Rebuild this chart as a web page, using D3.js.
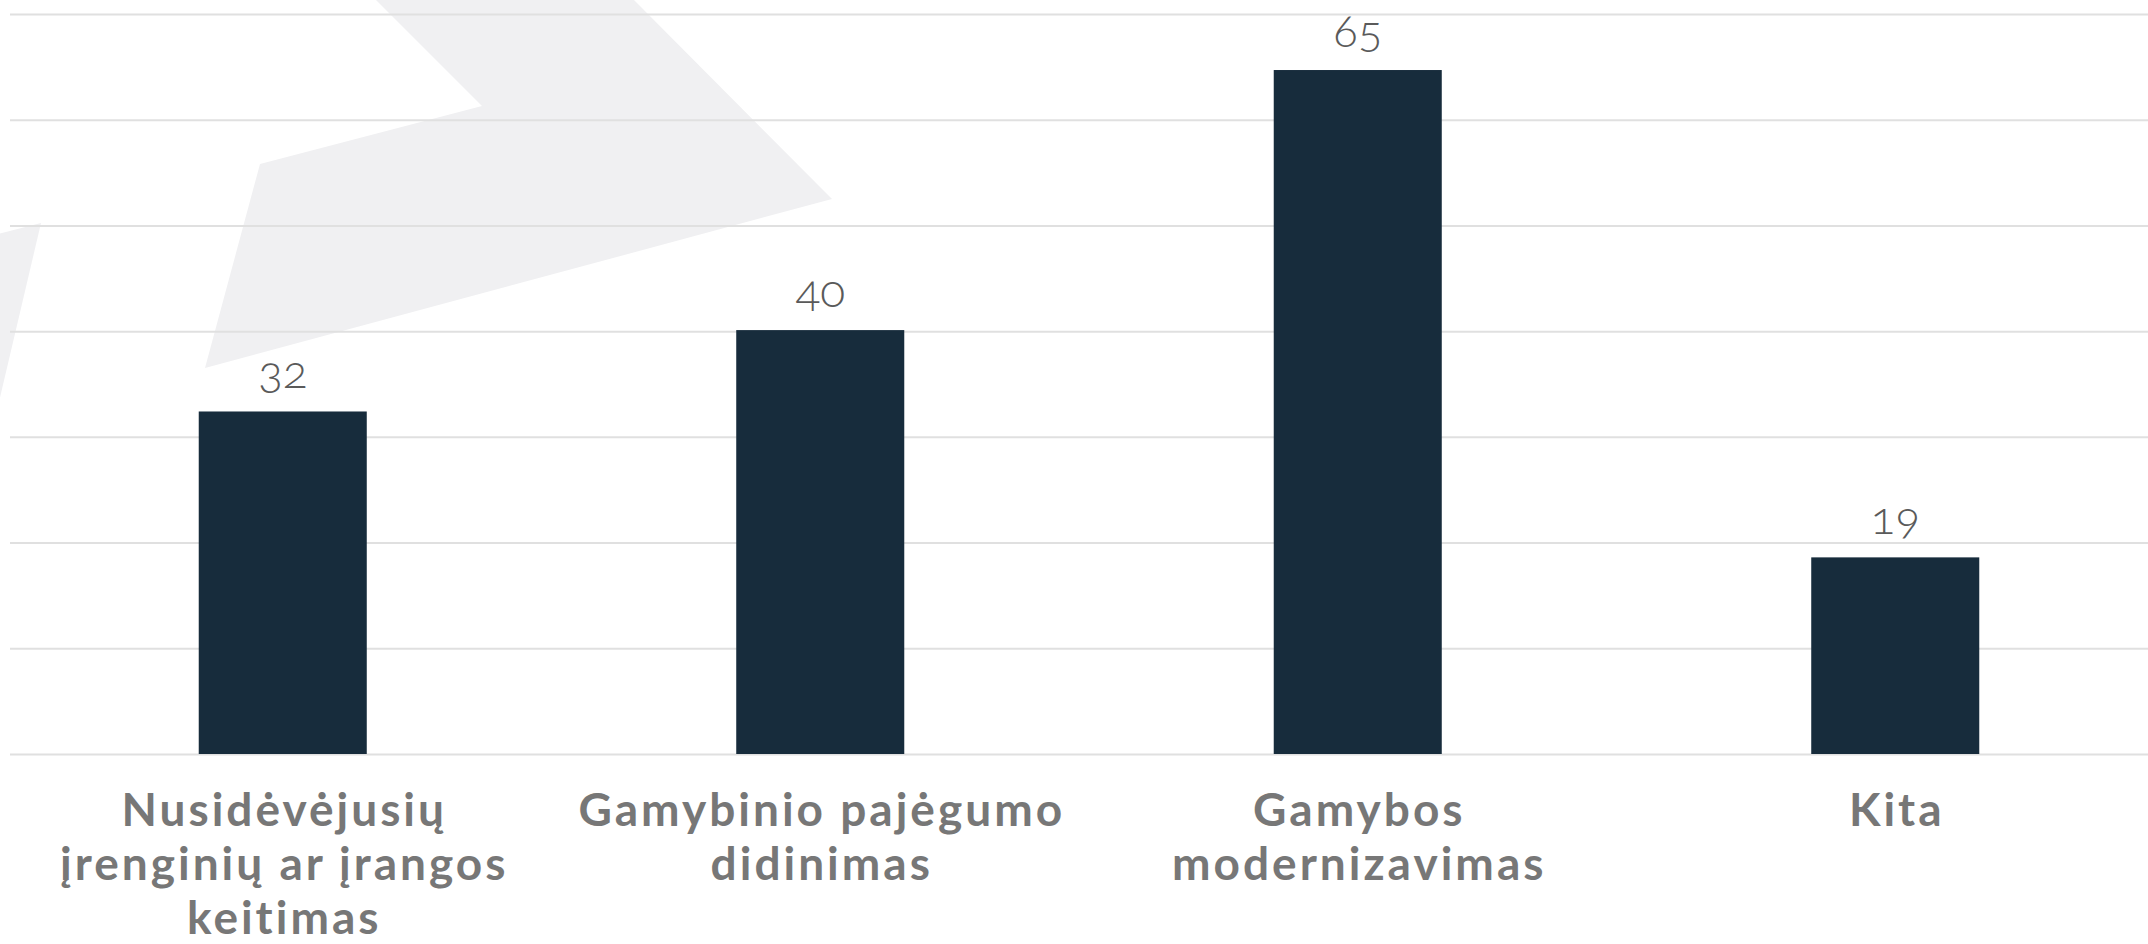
<!DOCTYPE html>
<html>
<head>
<meta charset="utf-8">
<script src="https://cdn.jsdelivr.net/npm/d3@7"></script>
<style>
  html, body { margin: 0; padding: 0; background: #fff; }
  svg { display: block; }
</style>
</head>
<body>
<svg id="chart"></svg>
<script>
// bar chart – reasons for investment

var categories = [
  "Nusidėvėjusių\nįrenginių ar įrangos\nkeitimas",
  "Gamybinio pajėgumo\ndidinimas",
  "Gamybos\nmodernizavimas",
  "Kita"
];
var values = [32.4, 40.1, 64.7, 18.6];
var gridTicks = [0, 10, 20, 30, 40, 50, 60, 70];

// grey decoration behind the plot (pixel space)
var decoMain = [[376, 0], [634, 0], [832, 199], [205, 368], [260, 164], [482, 106]];
var decoLeft = [[-10, 236], [41, 223], [-10, 440]];

var width = 2148, height = 944;

var chart = d3.select("#chart").attr("width", width).attr("height", height);

var xscale = d3.scaleBand()
    .domain(categories)
    .range([14, 2164])
    .paddingInner(0.6874)
    .paddingOuter(0.3437);

var yscale = d3.scaleLinear()
    .domain([0, 70])
    .range([754, 14]);

var fmt = d3.format(".0f");

// decoration
var poly = d3.line();
chart.append("path").attr("d", poly(decoMain) + "Z").attr("fill", "#f0f0f2");
chart.append("path").attr("d", poly(decoLeft) + "Z").attr("fill", "#f0f0f2");

// gridlines
var grid = chart.append("g")
    .attr("transform", "translate(10,0)")
    .call(d3.axisLeft(yscale).tickValues(gridTicks).tickSize(-(width - 10)).tickFormat(""));
grid.select(".domain").remove();
grid.selectAll("line").attr("stroke", "#e0e0e0").attr("stroke-width", 2);

// bars
chart.selectAll("rect.bar").data(values)
  .enter().append("rect")
    .attr("class", "bar")
    .attr("x", function(d, i) { return xscale(categories[i]); })
    .attr("width", xscale.bandwidth())
    .attr("y", function(d) { return yscale(d); })
    .attr("height", function(d) { return yscale(0) - yscale(d); })
    .attr("fill", "#172c3c");

// value labels
chart.selectAll("text.val").data(values)
  .enter().append("text")
    .attr("class", "val")
    .attr("x", function(d, i) { return xscale(categories[i]) + xscale.bandwidth() / 2; })
    .attr("y", function(d) { return yscale(d) - 23; })
    .attr("text-anchor", "middle")
    .style("font-family", "Lato, 'Open Sans', sans-serif")
    .style("font-weight", 300)
    .style("font-size", "46px")
    .style("font-variant-numeric", "oldstyle-nums")
    .style("fill", "#5a5a5a")
    .text(function(d) { return fmt(d); });

// category labels
var cat = chart.selectAll("text.cat").data(categories)
  .enter().append("text")
    .attr("class", "cat")
    .attr("text-anchor", "middle")
    .attr("x", function(d) { return xscale(d) + xscale.bandwidth() / 2; })
    .attr("y", 826)
    .style("font-family", "Lato, 'Open Sans', sans-serif")
    .style("font-weight", 700)
    .style("font-size", "46px")
    .style("letter-spacing", "3px")
    .style("font-variant-ligatures", "none")
    .style("fill", "#777777");

cat.selectAll("tspan")
  .data(function(d) { return d.split("\n"); })
  .enter().append("tspan")
    .attr("x", function() { var p = this.parentNode.__data__; return xscale(p) + xscale.bandwidth() / 2 + 1.5; })
    .attr("dy", function(d, i) { return i === 0 ? 0 : 54; })
    .text(function(d) { return d; });
</script>
</body>
</html>
